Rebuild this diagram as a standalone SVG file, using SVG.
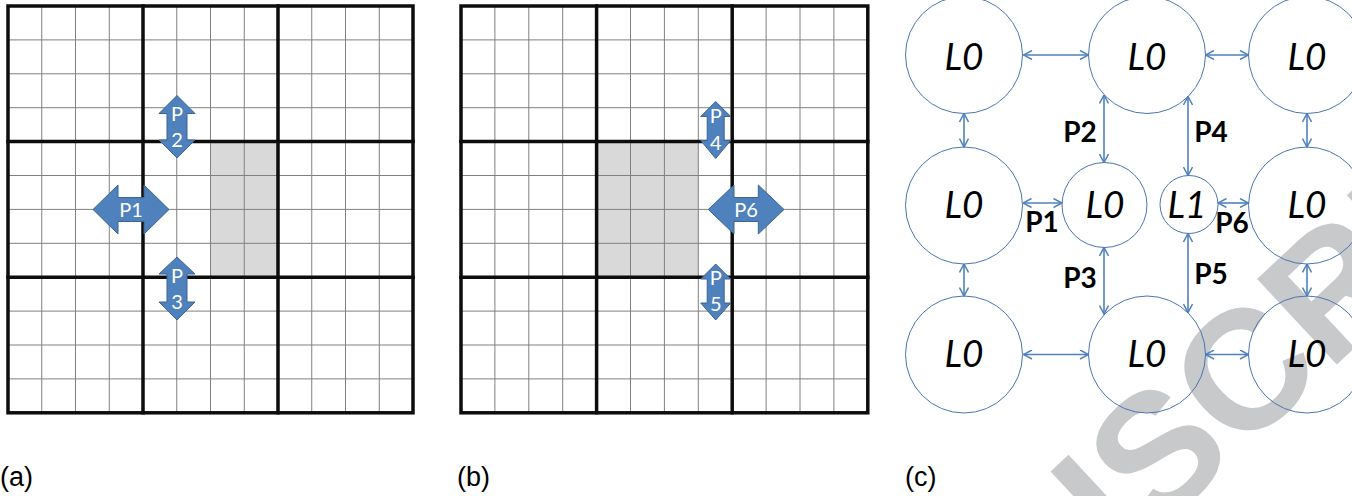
<svg xmlns="http://www.w3.org/2000/svg" width="1352" height="496" viewBox="0 0 1352 496">
<style>
.thin{stroke:#808080;stroke-width:1;fill:none}
.thick{stroke:#0d0d0d;stroke-width:3.5;fill:none;stroke-linecap:square}
.shade{fill:#d9d9d9}
.barrow{fill:#4f81bd;stroke:#3a6494;stroke-width:1}
.atxt{fill:#ffffff;font-family:Lato,"Open Sans",sans-serif;font-size:20px;text-anchor:middle}
.node{fill:none;stroke:#4a74b4;stroke-width:1}
.ntxt{fill:#000;font-family:Lato,"Open Sans",sans-serif;font-style:italic;font-size:37px;text-anchor:middle}
.conn{stroke:#4f81bd;stroke-width:1.6;fill:none;marker-start:url(#ah);marker-end:url(#ah)}
.plab{fill:#000;font-family:Lato,"Open Sans",sans-serif;font-weight:bold;font-size:28px;text-anchor:middle}
.cap{fill:#000;font-family:"Liberation Sans",Arial,sans-serif;font-size:27px}
.wm{fill:#c8c9ca;font-family:"Liberation Sans",Arial,sans-serif;font-weight:bold;font-size:170px}
</style>
<defs>
<marker id="ah" viewBox="0 0 10 10" refX="9.5" refY="5" markerWidth="10" markerHeight="10" markerUnits="userSpaceOnUse" orient="auto-start-reverse">
<path d="M1,0.5 L9.5,5 L1,9.5" fill="none" stroke="#4f81bd" stroke-width="1.5"/>
</marker>
</defs>
<rect x="0" y="0" width="1352" height="496" fill="#ffffff"/>

<g id="watermark">
<text class="wm" transform="translate(1066,617) rotate(-43)">USCRI</text>
</g>

<g id="panel-a">
<rect class="shade" x="210.5" y="141.6" width="67.5" height="135.6"/>
<g class="thin">
<path d="M41.75,6V412.8M75.5,6V412.8M109.25,6V412.8M176.75,6V412.8M210.5,6V412.8M244.25,6V412.8M311.75,6V412.8M345.5,6V412.8M379.25,6V412.8"/>
<path d="M8,39.9H413M8,73.8H413M8,107.7H413M8,175.5H413M8,209.4H413M8,243.3H413M8,311.1H413M8,345H413M8,378.9H413"/>
</g>
<g class="thick">
<rect x="8" y="6" width="405" height="406.8"/>
<path d="M143,6V412.8M278,6V412.8M8,141.6H413M8,277.2H413"/>
</g>
</g>

<g id="arrow-p1">
<polygon class="barrow" points="93,209.5 118,185 118,197.5 144,197.5 144,185 169,209.5 144,234 144,221.5 118,221.5 118,234"/>
<text class="atxt" x="131" y="216.5">P1</text>
</g>
<g id="arrow-p2">
<polygon class="barrow" points="177,95.5 195,113.5 187,113.5 187,140 195,140 177,158 159,140 167,140 167,113.5 159,113.5"/>
<text class="atxt" x="177" y="121">P</text>
<text class="atxt" x="177" y="147">2</text>
</g>
<g id="arrow-p3">
<polygon class="barrow" points="177,257 195,274 187,274 187,302 195,302 177,320 159,302 167,302 167,274 159,274"/>
<text class="atxt" x="177" y="283">P</text>
<text class="atxt" x="177" y="309">3</text>
</g>

<g id="panel-b">
<rect class="shade" x="596.6" y="141.6" width="101.7" height="135.6"/>
<g class="thin">
<path d="M494.9,6V412.8M528.8,6V412.8M562.7,6V412.8M630.5,6V412.8M664.4,6V412.8M698.3,6V412.8M766.1,6V412.8M800,6V412.8M833.9,6V412.8"/>
<path d="M461,39.9H867.8M461,73.8H867.8M461,107.7H867.8M461,175.5H867.8M461,209.4H867.8M461,243.3H867.8M461,311.1H867.8M461,345H867.8M461,378.9H867.8"/>
</g>
<g class="thick">
<rect x="461" y="6" width="406.8" height="406.8"/>
<path d="M596.6,6V412.8M732.2,6V412.8M461,141.6H867.8M461,277.2H867.8"/>
</g>
</g>

<g id="arrow-p4">
<polygon class="barrow" points="715.7,101.5 730.7,116.5 724.2,116.5 724.2,140.5 730.7,140.5 715.7,158.5 700.7,140.5 707.2,140.5 707.2,116.5 700.7,116.5"/>
<text class="atxt" x="715.7" y="123">P</text>
<text class="atxt" x="715.7" y="150">4</text>
</g>
<g id="arrow-p5">
<polygon class="barrow" points="715.7,264 730.7,279 724.2,279 724.2,303 730.7,303 715.7,320 700.7,303 707.2,303 707.2,279 700.7,279"/>
<text class="atxt" x="715.7" y="285">P</text>
<text class="atxt" x="715.7" y="311">5</text>
</g>
<g id="arrow-p6">
<polygon class="barrow" points="708.3,209.5 734,185 734,197.5 758.3,197.5 758.3,185 784,209.5 758.3,234 758.3,221.5 734,221.5 734,234"/>
<text class="atxt" x="746" y="216.5">P6</text>
</g>

<g id="connectors">
<line class="conn" x1="1023.5" y1="55" x2="1088.5" y2="55"/>
<line class="conn" x1="1205.5" y1="55" x2="1248.5" y2="55"/>
<line class="conn" x1="964" y1="113.5" x2="964" y2="147"/>
<line class="conn" x1="1307" y1="113.5" x2="1307" y2="147"/>
<line class="conn" x1="1104" y1="95" x2="1104" y2="162.5"/>
<line class="conn" x1="1188" y1="96.5" x2="1188" y2="175.5"/>
<line class="conn" x1="1023" y1="203" x2="1062" y2="203"/>
<line class="conn" x1="1218" y1="203" x2="1248.5" y2="203"/>
<line class="conn" x1="1104" y1="247.5" x2="1104" y2="314"/>
<line class="conn" x1="1188" y1="233.5" x2="1188" y2="312.5"/>
<line class="conn" x1="964" y1="264" x2="964" y2="296"/>
<line class="conn" x1="1307" y1="264" x2="1307" y2="296"/>
<line class="conn" x1="1023.5" y1="354.5" x2="1088.5" y2="354.5"/>
<line class="conn" x1="1205.5" y1="354.5" x2="1248.5" y2="354.5"/>
</g>

<g id="n-tl"><circle class="node" cx="964" cy="55" r="58.5"/><text class="ntxt" x="964" y="70">L0</text></g>
<g id="n-tm"><circle class="node" cx="1147" cy="55" r="58.5"/><text class="ntxt" x="1147" y="70">L0</text></g>
<g id="n-tr"><circle class="node" cx="1307" cy="55" r="58.5"/><text class="ntxt" x="1307" y="70">L0</text></g>
<g id="n-ml"><circle class="node" cx="964" cy="205.5" r="58.5"/><text class="ntxt" x="964" y="218">L0</text></g>
<g id="n-mc"><circle class="node" cx="1104.5" cy="205" r="42.5"/><text class="ntxt" x="1105" y="218">L0</text></g>
<g id="n-l1"><circle class="node" cx="1189" cy="204.5" r="29"/><text class="ntxt" x="1187" y="218">L1</text></g>
<g id="n-mr"><circle class="node" cx="1307" cy="205.5" r="58.5"/><text class="ntxt" x="1307" y="218">L0</text></g>
<g id="n-bl"><circle class="node" cx="964" cy="354.5" r="58.5"/><text class="ntxt" x="964" y="367">L0</text></g>
<g id="n-bm"><circle class="node" cx="1147" cy="354.5" r="58.5"/><text class="ntxt" x="1147" y="367">L0</text></g>
<g id="n-br"><circle class="node" cx="1307" cy="354.5" r="58.5"/><text class="ntxt" x="1307" y="367">L0</text></g>

<g id="port-labels">
<text class="plab" x="1080" y="142">P2</text>
<text class="plab" x="1211" y="142">P4</text>
<text class="plab" x="1042" y="232">P1</text>
<text class="plab" x="1232" y="233">P6</text>
<text class="plab" x="1080" y="288">P3</text>
<text class="plab" x="1211" y="284">P5</text>
</g>

<g id="captions">
<text class="cap" x="0" y="486">(a)</text>
<text class="cap" x="457" y="486">(b)</text>
<text class="cap" x="905" y="486">(c)</text>
</g>
</svg>
